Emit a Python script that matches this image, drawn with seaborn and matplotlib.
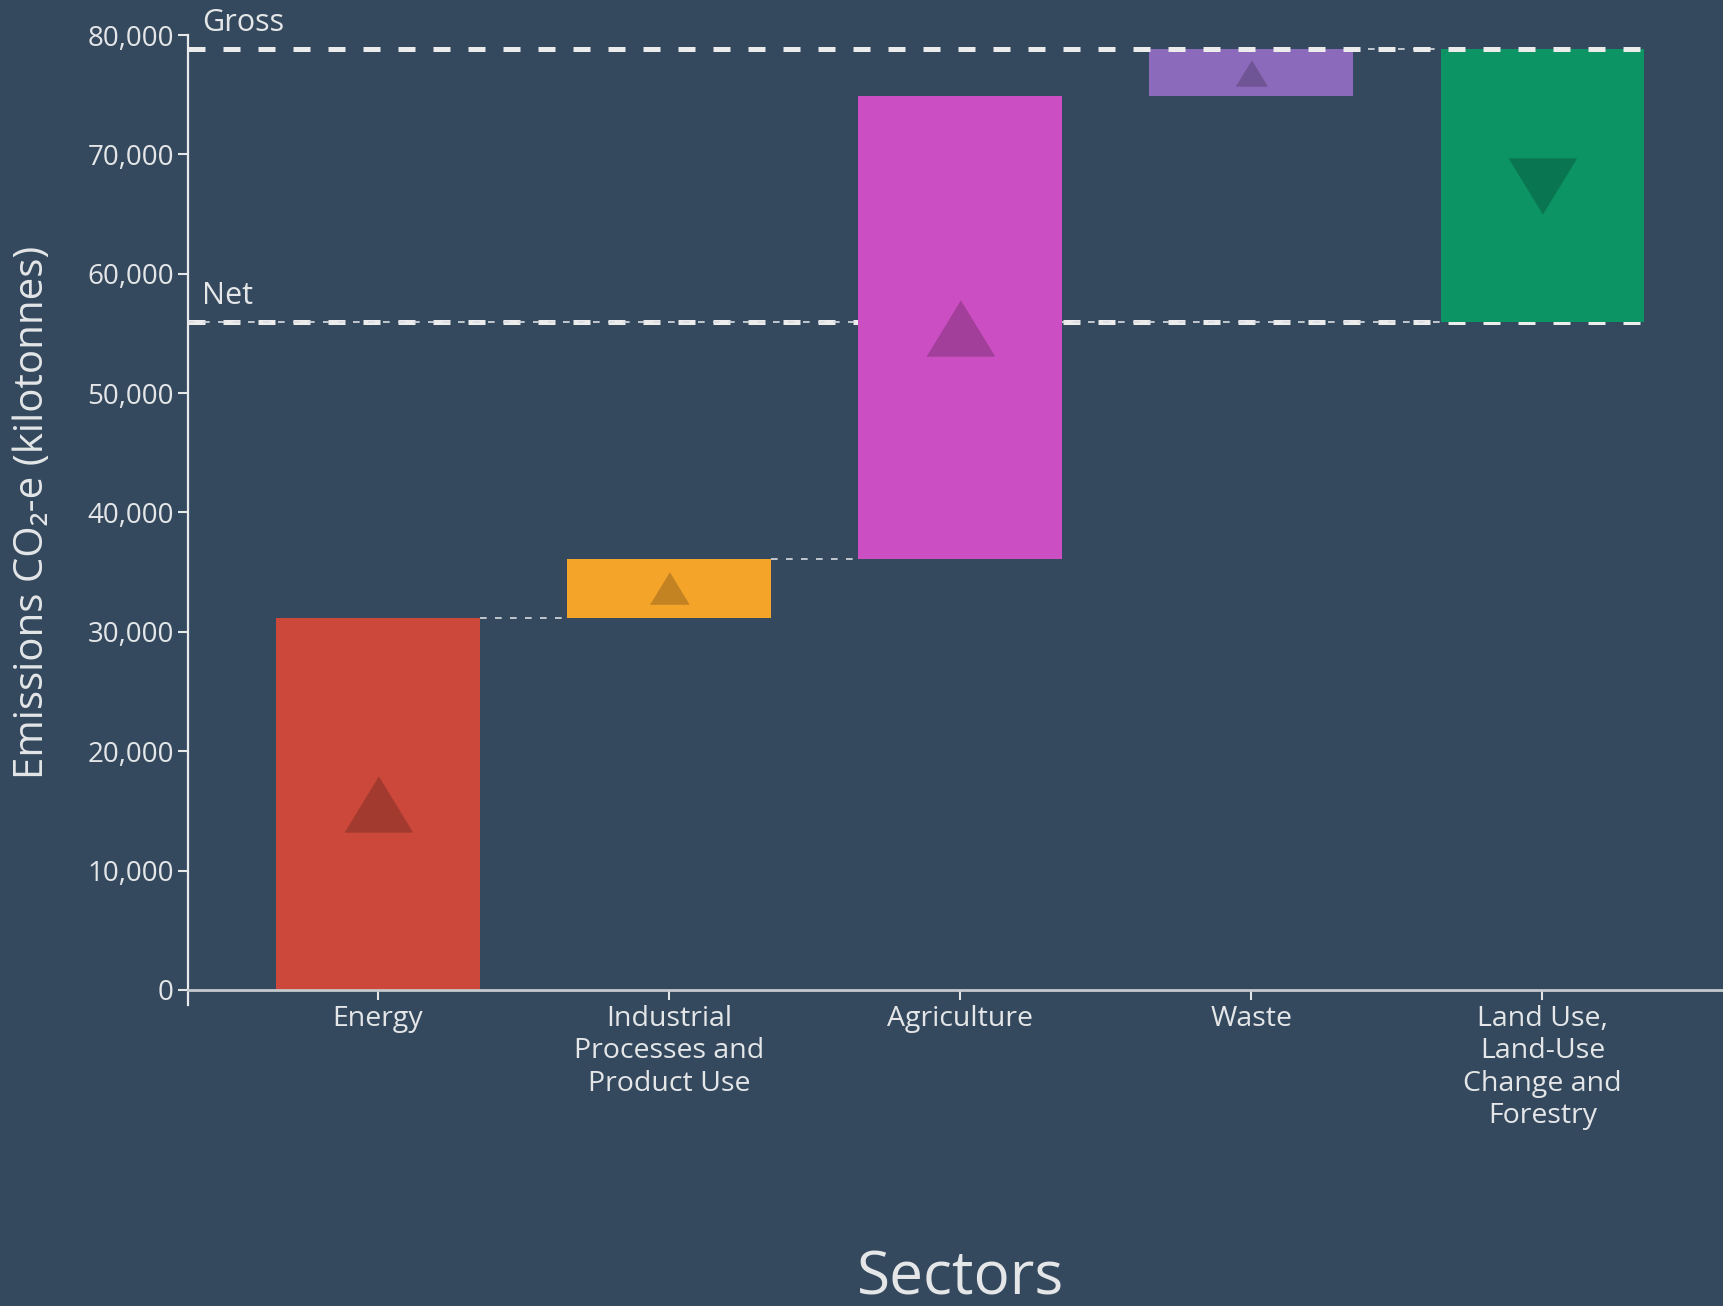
import numpy as np
import matplotlib
matplotlib.use("Agg")
import matplotlib.pyplot as plt
import matplotlib.colors as mcolors
import seaborn as sns

sectors = ["Energy", "Industrial\nProcesses and\nProduct Use", "Agriculture",
           "Waste", "Land Use,\nLand-Use\nChange and\nForestry"]
changes = [31200, 4900, 38750, 3950, -22830]
bar_colors = ["#CC483B", "#F5A42A", "#CB4FC2", "#8C6ABB", "#0D9465"]
y_ticks = [0, 10000, 20000, 30000, 40000, 50000, 60000, 70000, 80000]

bg = "#34495E"
fg = "#E4E6E8"


def make_plot():
    sns.set_style("white")
    plt.rcParams["font.family"] = ["Open Sans", "DejaVu Sans"]

    bottoms = np.concatenate([[0], np.cumsum(changes)[:-1]])
    gross = sum(c for c in changes if c > 0)
    net = sum(changes)

    fig = plt.figure(figsize=(17.23, 13.06), dpi=100, facecolor=bg)
    ax = fig.add_axes([0.109, 0.2301, 0.891, 0.7431])
    ax.set_facecolor(bg)

    sns.barplot(x=sectors, y=changes, bottom=bottoms, width=0.7, color=bar_colors[0],
                saturation=1, errorbar=None, ax=ax, zorder=3, linewidth=0)
    for patch, col in zip(ax.patches, bar_colors):
        patch.set_facecolor(col)

    ax.set_xlim(-0.653, 4.62)
    ax.set_ylim(-1300, 80000)

    # gross / net reference lines
    x0 = -0.653
    x_end = len(sectors) - 1 + 0.35
    ax.plot([x0, x_end], [gross, gross], color="#ECECEC", lw=3.6,
            dashes=(3.4, 3.6), zorder=4, solid_capstyle="butt")
    ax.plot([x0, x_end], [net, net], color="#ECECEC", lw=3.6,
            dashes=(3.4, 3.6), zorder=2)
    ax.plot([x0, len(sectors) - 1 - 0.35], [net, net], color="#D8DCE0",
            lw=1.2, dashes=(4, 5), zorder=2)

    # connectors between consecutive bars
    tops = bottoms + np.array(changes)
    for i in [0, 1, 3]:
        ax.plot([i + 0.35, i + 0.65], [tops[i], tops[i]], color="#D8DCE0",
                lw=1.2, dashes=(4, 5), zorder=2)

    # triangles inside bars
    px_per_unit = ax.transData.transform((0, 1))[1] - ax.transData.transform((0, 0))[1]
    up = [(-1, -0.82), (1, -0.82), (0, 0.82)]
    down = [(-1, 0.82), (1, 0.82), (0, -0.82)]
    for i, (b, c) in enumerate(zip(bottoms, changes)):
        bar_px = abs(c) * px_per_unit
        size_px = min(bar_px * 0.65, 67)
        dark = tuple(v * 0.8 for v in mcolors.to_rgb(bar_colors[i]))
        ax.plot(i, b + c / 2, marker=up if c > 0 else down,
                markersize=size_px * 72 / 100, color=dark, linestyle="none",
                zorder=5)

    for label, val in [("Gross", gross), ("Net", net)]:
        ax.annotate(label, xy=(x0, val), xytext=(10, 8), textcoords="offset points",
                    color=fg, fontsize=22, ha="left", va="bottom")

    # axes styling
    ax.spines["top"].set_visible(False)
    ax.spines["right"].set_visible(False)
    ax.spines["left"].set_color("#E8EAEC")
    ax.spines["left"].set_linewidth(1.6)
    ax.spines["bottom"].set_position(("data", 0))
    ax.spines["bottom"].set_color("#C4C9CE")
    ax.spines["bottom"].set_linewidth(2)
    ax.spines["bottom"].set_zorder(6)

    ax.set_yticks(y_ticks)
    ax.set_yticklabels([f"{t:,}" for t in y_ticks])
    ax.tick_params(axis="y", colors=fg, labelsize=20, length=7, width=1.5, pad=3,
                   left=True)
    ax.tick_params(axis="x", colors=fg, labelsize=20.5, length=7, width=1.5, pad=4,
                   bottom=True)
    for lab in ax.get_xticklabels():
        lab.set_linespacing(1.2)
        lab.set_va("top")

    ax.set_ylabel("Emissions CO\u2082-e (kilotonnes)", color=fg, fontsize=29)
    ax.yaxis.set_label_coords(-0.088, 0.5085)
    ax.set_xlabel("Sectors", color=fg, fontsize=43.5)
    ax.xaxis.set_label_coords(0.5036, -0.281)
    ax.xaxis.label.set_va("center")

    fig.savefig("out.png", dpi=100, facecolor=bg)
    plt.close(fig)


if __name__ == "__main__":
    make_plot()
